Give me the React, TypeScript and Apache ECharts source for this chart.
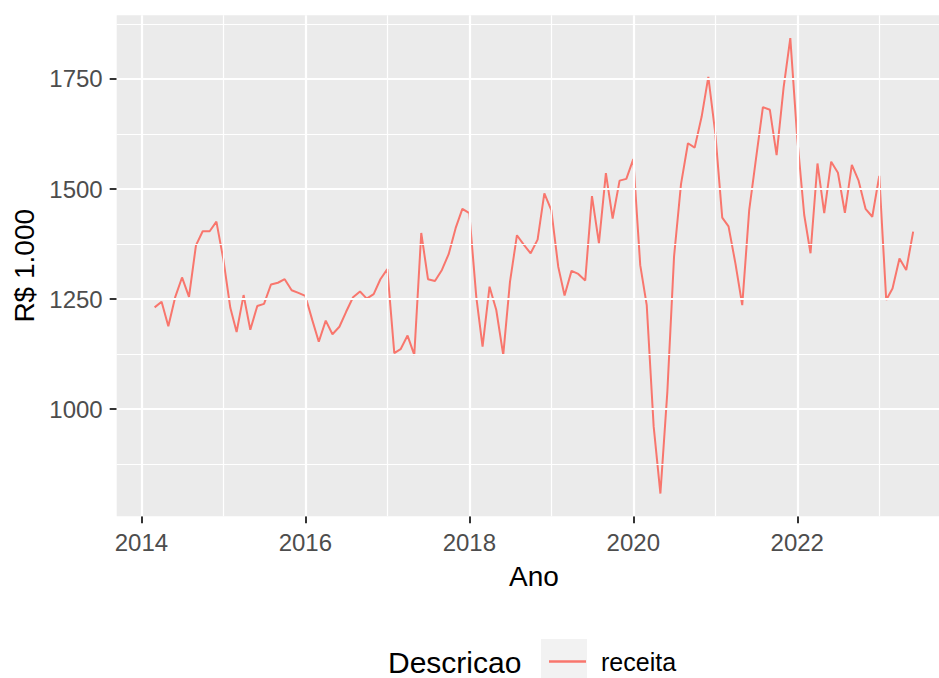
import React, { useEffect, useRef } from "react";
import * as echarts from "echarts";

// Monthly series "receita" (R$ 1.000), starting March 2014
const startYear = 2014;
const startMonth = 3;
const receita = [
  1231, 1244, 1188, 1255, 1299, 1255, 1372, 1404, 1404, 1426,
  1340, 1230, 1175, 1259, 1180, 1234, 1239, 1283, 1287, 1295, 1270, 1264,
  1257, 1202, 1153, 1201, 1170, 1187, 1221, 1254, 1267, 1251, 1261, 1295,
  1318, 1127, 1136, 1167, 1123, 1400, 1295, 1291, 1316, 1352, 1411, 1455,
  1445, 1255, 1142, 1278, 1225, 1123, 1289, 1395, 1373, 1354, 1385, 1490,
  1452, 1323, 1258, 1314, 1307, 1292, 1484, 1377, 1536, 1433, 1519, 1523,
  1568, 1327, 1236, 960, 808, 1039, 1347, 1511, 1604, 1594, 1664, 1755,
  1627, 1435, 1415, 1330, 1236, 1452, 1568, 1686, 1680, 1577, 1730, 1843,
  1615, 1441, 1354, 1558, 1445, 1562, 1537, 1446, 1555, 1519, 1455, 1437,
  1530, 1248, 1274, 1342, 1316, 1403,
];

const xTickLabels = [2014, 2016, 2018, 2020, 2022];
const xMinorBreaks = [2015, 2017, 2019, 2021, 2023];
const yTickLabels = [1000, 1250, 1500, 1750];
const yMinorBreaks = [875, 1125, 1375, 1625, 1875];

const seriesName = "receita";
const legendTitle = "Descricao";
const xTitle = "Ano";
const yTitle = "R$ 1.000";

function decYear(y: number, m: number): number {
  const t = Date.UTC(y, m - 1, 1);
  const a = Date.UTC(y, 0, 1);
  const b = Date.UTC(y + 1, 0, 1);
  return y + (t - a) / (b - a);
}

const FONT = "'Liberation Sans', Arial, sans-serif";

export default function App() {
  const ref = useRef<HTMLDivElement>(null);

  useEffect(() => {
    if (!ref.current) return;
    const chart = echarts.init(ref.current, undefined, { renderer: "svg" });

    const points = receita.map((v, i) => {
      const mIdx = startMonth - 1 + i;
      const y = startYear + Math.floor(mIdx / 12);
      const m = (mIdx % 12) + 1;
      return [decYear(y, m), v];
    });
    const xs = points.map((p) => p[0]);
    const xMinD = Math.min(...xs);
    const xMaxD = Math.max(...xs);
    const yMinD = Math.min(...receita);
    const yMaxD = Math.max(...receita);
    const xr = xMaxD - xMinD;
    const yr = yMaxD - yMinD;
    const xMin = xMinD - 0.05 * xr;
    const xMax = xMaxD + 0.05 * xr;
    const yMin = yMinD - 0.05 * yr;
    const yMax = yMaxD + 0.05 * yr;

    const major = { color: "#FFFFFF", width: 2.2, type: "solid" };
    const minor = { color: "#FFFFFF", width: 1.2, type: "solid" };

    const gridLines: any[] = [
      ...yMinorBreaks.map((v) => ({ yAxis: v, lineStyle: minor })),
      ...xMinorBreaks.map((v) => ({ xAxis: v, lineStyle: minor })),
      ...yTickLabels.map((v) => ({ yAxis: v, lineStyle: major })),
      ...xTickLabels.map((v) => ({ xAxis: v, lineStyle: major })),
    ];

    chart.setOption({
      animation: false,
      textStyle: { fontFamily: FONT },
      grid: {
        left: 116.7,
        top: 15.3,
        width: 834.4,
        height: 501,
        show: true,
        backgroundColor: "#EBEBEB",
        borderWidth: 0,
        containLabel: false,
        outerBoundsMode: "none",
      },
      xAxis: {
        type: "value",
        min: xMin,
        max: xMax,
        name: xTitle,
        nameLocation: "middle",
        nameGap: 46,
        nameTextStyle: { fontSize: 28, color: "#000000", fontFamily: FONT },
        axisLine: { show: false },
        splitLine: { show: false },
        axisTick: {
          show: true,
          length: 7,
          customValues: xTickLabels,
          lineStyle: { color: "#333333", width: 2 },
        },
        axisLabel: {
          customValues: xTickLabels,
          fontSize: 24,
          color: "#4D4D4D",
          margin: 14,
          fontFamily: FONT,
          formatter: (v: number) => String(Math.round(v)),
        },
      },
      yAxis: {
        type: "value",
        min: yMin,
        max: yMax,
        name: yTitle,
        nameLocation: "middle",
        nameGap: 76,
        nameRotate: 90,
        nameTextStyle: { fontSize: 28, color: "#000000", fontFamily: FONT },
        axisLine: { show: false },
        splitLine: { show: false },
        axisTick: {
          show: true,
          length: 7,
          customValues: yTickLabels,
          lineStyle: { color: "#333333", width: 2 },
        },
        axisLabel: {
          customValues: yTickLabels,
          fontSize: 24,
          color: "#4D4D4D",
          margin: 14,
          fontFamily: FONT,
          formatter: (v: number) => String(Math.round(v)),
        },
      },
      legend: {
        show: true,
        left: 544,
        top: 644,
        icon: "rect",
        itemWidth: 37,
        itemHeight: 2.5,
        data: [seriesName],
        textStyle: {
          fontSize: 25,
          color: "#000000",
          fontFamily: FONT,
          padding: [0, 0, 0, 10],
        },
        selectedMode: false,
      },
      graphic: [
        {
          type: "rect",
          z: -1,
          shape: { x: 541, y: 639, width: 46, height: 46 },
          style: { fill: "#F2F2F2" },
        },
        {
          type: "text",
          x: 388,
          y: 662,
          style: {
            text: legendTitle,
            fontSize: 30,
            fontFamily: FONT,
            fill: "#000000",
            verticalAlign: "middle",
            align: "left",
          },
        },
      ],
      series: [
        {
          type: "line",
          name: "__grid",
          data: [],
          z: 1,
          silent: true,
          markLine: {
            silent: true,
            symbol: ["none", "none"],
            label: { show: false },
            emphasis: { disabled: true },
            animation: false,
            data: gridLines,
          },
        },
        {
          type: "line",
          name: seriesName,
          data: points,
          z: 3,
          showSymbol: false,
          symbol: "none",
          lineStyle: { color: "#F8766D", width: 2 },
          itemStyle: { color: "#F8766D" },
          emphasis: { disabled: true },
        },
      ],
    });

    return () => chart.dispose();
  }, []);

  return (
    <div
      ref={ref}
      style={{ position: "fixed", left: 0, top: 0, width: 939, height: 678, background: "#FFFFFF" }}
    />
  );
}
